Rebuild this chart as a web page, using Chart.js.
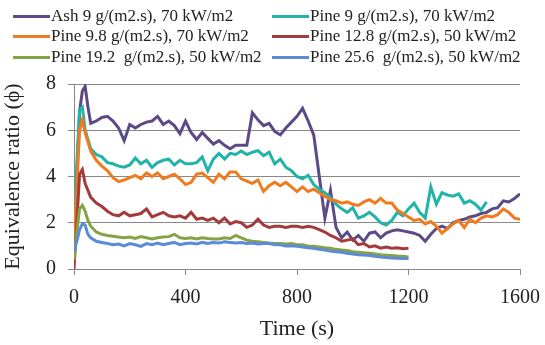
<!DOCTYPE html>
<html>
<head>
<meta charset="utf-8">
<script src="https://cdn.jsdelivr.net/npm/chart.js@4/dist/chart.umd.min.js"></script>
<style>
html,body{margin:0;padding:0;background:#fff;}
#c{display:block;}
</style>
</head>
<body>
<canvas id="c" width="545" height="345"></canvas>
<script>
const times = [0,10,20,30,40,50,60,80,100,120,140,160,180,200,220,240,260,280,300,320,340,360,380,400,420,440,460,480,500,520,540,560,580,600,620,640,660,680,700,720,740,760,780,800,820,840,860,880,900,920,940,960,980,1000,1020,1040,1060,1080,1100,1120,1140,1160,1180,1200,1220,1240,1260,1280,1300,1320,1340,1360,1380,1400,1420,1440,1460,1480,1500,1520,1540,1560,1580,1600];

const seriesNames = [
  "Ash 9 g/(m2.s), 70 kW/m2",
  "Pine 9 g/(m2.s), 70 kW/m2",
  "Pine 9.8 g/(m2.s), 70 kW/m2",
  "Pine 12.8 g/(m2.s), 50 kW/m2",
  "Pine 19.2  g/(m2.s), 50 kW/m2",
  "Pine 25.6  g/(m2.s), 50 kW/m2"
];

const ash9 = [0.8,4.0,6.8,7.7,7.9,7.0,6.3,6.4,6.55,6.6,6.4,6.1,5.55,6.25,6.1,6.25,6.35,6.4,6.6,6.25,6.4,6.2,5.85,6.4,5.9,5.6,5.9,5.65,5.4,5.55,5.35,5.2,5.35,5.35,5.35,6.75,6.45,6.2,6.3,5.95,5.8,6.1,6.35,6.6,6.95,6.4,5.8,4.0,2.2,3.4,1.8,1.35,1.6,1.25,1.45,1.2,1.55,1.6,1.35,1.55,1.65,1.7,1.65,1.6,1.55,1.45,1.2,1.5,1.75,1.85,1.75,2.0,2.1,2.15,2.25,2.3,2.4,2.45,2.6,2.65,2.95,2.9,3.05,3.25];

const pine9 = [1.2,4.5,6.9,7.0,6.0,5.6,5.2,4.95,4.85,4.6,4.55,4.45,4.4,4.5,4.8,4.55,4.7,4.4,4.6,4.7,4.75,4.5,4.7,4.55,4.55,4.6,4.85,4.25,4.75,5.0,4.75,5.0,4.95,5.1,4.95,5.05,5.12,4.9,5.05,4.55,4.75,4.4,4.25,4.0,3.9,4.05,3.65,3.45,3.3,3.1,2.8,2.6,2.45,2.65,2.2,2.3,2.45,2.25,2.0,1.9,2.1,2.45,2.3,2.6,2.85,2.45,2.2,3.55,2.8,3.3,3.2,3.15,3.25,2.85,2.95,2.8,2.55,2.9,null,null,null,null,null,null];

const pine98 = [0.8,3.5,6.0,6.45,5.9,5.5,5.1,4.7,4.45,4.25,3.95,3.78,3.85,3.95,4.05,3.9,4.15,4.0,4.15,3.9,4.0,4.1,3.9,3.65,3.75,4.1,4.15,3.95,3.75,4.1,3.9,4.2,4.2,3.9,3.8,3.7,3.85,3.35,3.6,3.75,3.6,3.75,3.55,3.35,3.55,3.35,3.45,3.3,3.15,3.0,2.95,2.85,2.9,2.8,2.75,2.9,3.0,2.85,3.05,2.85,2.85,2.55,2.4,2.25,2.1,2.15,1.95,2.05,1.85,1.55,1.75,1.95,2.1,1.8,2.15,2.0,2.2,2.3,2.25,2.35,2.6,2.45,2.2,2.15];

const pine128 = [0.0,2.0,4.1,4.3,3.7,3.4,3.1,2.85,2.7,2.5,2.35,2.3,2.45,2.3,2.35,2.4,2.6,2.25,2.35,2.45,2.3,2.25,2.3,2.2,2.45,2.15,2.2,2.1,2.2,2.0,2.2,1.95,2.05,2.0,1.8,1.9,2.15,1.9,1.8,1.85,1.85,1.8,1.85,1.85,1.8,1.85,1.8,1.7,1.6,1.45,1.35,1.2,1.25,1.3,1.05,1.1,0.95,1.0,0.9,0.95,0.9,0.92,0.88,0.9,null,null,null,null,null,null,null,null,null,null,null,null,null,null,null,null,null,null,null,null];

const pine192 = [0.4,1.6,2.6,2.75,2.5,2.1,1.85,1.6,1.5,1.45,1.42,1.38,1.35,1.38,1.32,1.4,1.35,1.3,1.35,1.38,1.4,1.5,1.35,1.32,1.35,1.3,1.35,1.32,1.3,1.3,1.35,1.32,1.45,1.35,1.25,1.2,1.18,1.15,1.12,1.1,1.1,1.08,1.1,1.05,1.05,1.0,0.98,0.95,0.92,0.9,0.85,0.82,0.8,0.75,0.72,0.7,0.68,0.65,0.62,0.6,0.58,0.56,0.55,0.52,null,null,null,null,null,null,null,null,null,null,null,null,null,null,null,null,null,null,null,null];

const pine256 = [0.8,1.2,1.7,1.95,1.9,1.5,1.35,1.2,1.15,1.1,1.05,1.08,1.0,1.1,1.05,0.98,1.1,1.05,1.12,1.05,1.1,1.15,1.05,1.1,1.12,1.08,1.15,1.1,1.15,1.12,1.18,1.15,1.12,1.15,1.1,1.12,1.08,1.1,1.1,1.05,1.05,1.0,1.0,0.98,0.95,0.92,0.9,0.85,0.82,0.78,0.75,0.72,0.68,0.65,0.62,0.6,0.58,0.55,0.52,0.5,0.48,0.47,0.45,0.45,null,null,null,null,null,null,null,null,null,null,null,null,null,null,null,null,null,null,null,null];

const xTicks = [0,400,800,1200,1600];
const yTicks = [0,2,4,6,8];

const seriesValues = [ash9, pine9, pine98, pine128, pine192, pine256];
const colors = ["#5C4A86","#22B3A8","#F07A1E","#A23B3A","#86A343","#5B8BD8"];

const datasets = seriesValues.map((vals, i) => ({
  label: seriesNames[i],
  data: times.map((t, j) => ({x: t, y: vals[j]})).filter(p => p.y !== null),
  borderColor: colors[i],
  backgroundColor: colors[i],
  borderWidth: 3,
  pointRadius: 0,
  tension: 0,
  fill: false,
  order: 6 - i
}));

const serif = "'Liberation Serif', serif";

// Two-column legend drawn on the chart canvas
const legendPos = [[13,16],[272,16],[13,36],[272,36],[13,57],[272,57]];
const gridLegend = {
  id: 'gridLegend',
  afterDraw(chart) {
    const ctx = chart.ctx;
    ctx.save();
    ctx.font = "17px " + serif;
    ctx.textBaseline = 'middle';
    ctx.textAlign = 'left';
    chart.data.datasets.forEach((ds, i) => {
      const [x, y] = legendPos[i];
      ctx.strokeStyle = ds.borderColor;
      ctx.lineWidth = 3;
      ctx.beginPath();
      ctx.moveTo(x, y + 0.5);
      ctx.lineTo(x + 37, y + 0.5);
      ctx.stroke();
      ctx.fillStyle = '#222';
      ctx.fillText(ds.label, x + 38, y + 1);
    });
    ctx.restore();
  }
};

new Chart(document.getElementById('c'), {
  type: 'line',
  data: { datasets },
  plugins: [gridLegend],
  options: {
    responsive: false,
    animation: false,
    layout: { padding: { top: 84, right: 25, left: 0, bottom: 0 } },
    plugins: { legend: { display: false }, tooltip: { enabled: false } },
    scales: {
      x: {
        type: 'linear', min: 0, max: 1600,
        afterBuildTicks: s => { s.ticks = xTicks.map(v => ({value: v})); },
        ticks: { font: { family: serif, size: 20 }, color: '#222', padding: 11, maxRotation: 0, callback: v => String(v) },
        grid: { drawOnChartArea: false, drawTicks: true, tickLength: 6, color: '#888' },
        border: { color: '#888', width: 1 },
        title: { display: true, text: 'Time (s)', font: { family: serif, size: 22 }, color: '#222', padding: { top: 0, bottom: 3 } },
        afterFit: s => { s.height = 76; s.paddingLeft = 0; s.paddingRight = 0; }
      },
      y: {
        type: 'linear', min: 0, max: 8,
        afterBuildTicks: s => { s.ticks = yTicks.map(v => ({value: v})); },
        ticks: { font: { family: serif, size: 20 }, color: '#222', padding: 12, callback: v => String(v) },
        grid: { color: '#888', lineWidth: 1, tickLength: 6 },
        border: { color: '#888', width: 1 },
        title: { display: true, text: 'Equivalence ratio (ϕ)', font: { family: serif, size: 22 }, color: '#222', padding: 0 },
        afterFit: s => { s.width = 74; s.paddingTop = 0; s.paddingBottom = 0; }
      }
    }
  }
});
</script>
</body>
</html>
